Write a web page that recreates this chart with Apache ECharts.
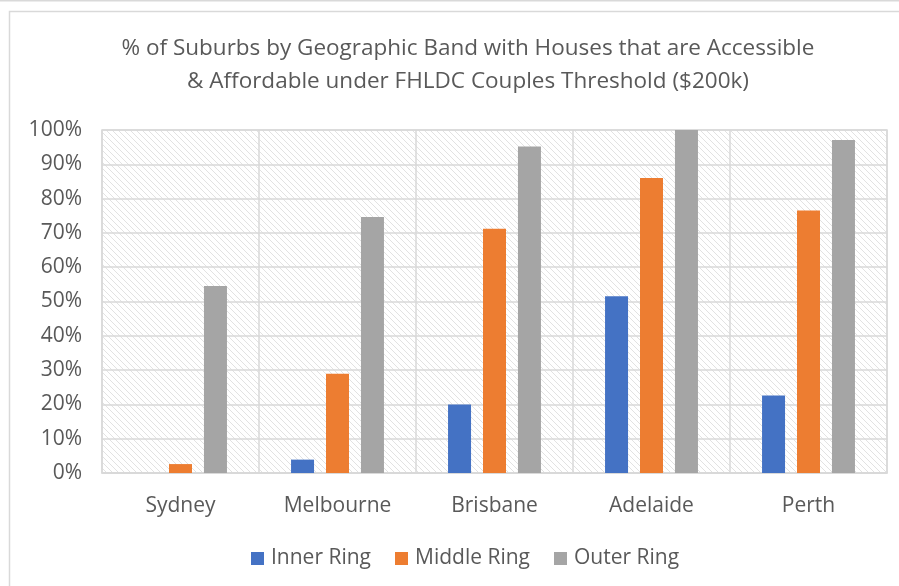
<!DOCTYPE html>
<html>
<head>
<meta charset="utf-8">
<script src="https://cdn.jsdelivr.net/npm/echarts@6/dist/echarts.min.js"></script>
<style>html,body{margin:0;padding:0;background:#fff;}#c{width:899px;height:586px;}</style>
</head>
<body>
<div id="c"></div>
<script>
const categories = ['Sydney', 'Melbourne', 'Brisbane', 'Adelaide', 'Perth'];
const innerRing = [0, 3.9, 20, 51.5, 22.6];
const middleRing = [2.6, 28.9, 71.2, 86, 76.5];
const outerRing = [54.5, 74.6, 95.2, 100, 97.1];
const seriesNames = ['Inner Ring', 'Middle Ring', 'Outer Ring'];
const yTicks = [0, 10, 20, 30, 40, 50, 60, 70, 80, 90, 100];

const FONT = 'Open Sans';
const TXT = '#595959';

const pc = document.createElement('canvas');
pc.width = 6; pc.height = 6;
const g = pc.getContext('2d');
g.fillStyle = '#ffffff'; g.fillRect(0, 0, 6, 6);
g.strokeStyle = '#e2e2e2'; g.lineWidth = 1;
g.beginPath();
g.moveTo(-1, -1); g.lineTo(7, 7);
g.moveTo(-1, 5); g.lineTo(1, 7);
g.moveTo(5, -1); g.lineTo(7, 1);
g.stroke();

const chart = echarts.init(document.getElementById('c'), null, {renderer: 'canvas'});
chart.setOption({
  animation: false,
  backgroundColor: '#fff',
  graphic: [
    {type: 'line', shape: {x1: 0, y1: 0.5, x2: 899, y2: 0.5}, style: {stroke: '#d9d9d9', lineWidth: 2}},
    {type: 'polyline', shape: {points: [[9.5, 586], [9.5, 11.5], [899, 11.5]]}, style: {stroke: '#d9d9d9', lineWidth: 1.5, fill: null}}
  ],
  title: {
    text: '% of Suburbs by Geographic Band with Houses that are Accessible\n& Affordable under FHLDC Couples Threshold ($200k)',
    left: 463, top: 27, textAlign: 'center',
    textStyle: {fontFamily: FONT, fontSize: 22.5, fontWeight: 'normal', color: TXT, lineHeight: 33}
  },
  legend: {
    data: seriesNames,
    left: 246, top: 543,
    itemWidth: 13, itemHeight: 13, itemGap: 24,
    icon: 'rect',
    textStyle: {fontFamily: FONT, fontSize: 21, color: TXT, padding: [0, 0, 0, 2]}
  },
  grid: {
    left: 102, right: 12, top: 130, bottom: 113,
    show: true,
    backgroundColor: {image: pc, repeat: 'repeat'},
    borderColor: '#d9d9d9', borderWidth: 1.5
  },
  xAxis: {
    type: 'category', data: categories,
    axisLine: {show: true, lineStyle: {color: '#d9d9d9', width: 1.5}},
    axisTick: {show: false},
    splitLine: {show: true, lineStyle: {color: '#d9d9d9', width: 1.5}},
    axisLabel: {fontFamily: FONT, fontSize: 21, color: TXT, margin: 23}
  },
  yAxis: {
    type: 'value', min: 0, max: 100, interval: 10,
    axisLine: {show: false}, axisTick: {show: false},
    splitLine: {lineStyle: {color: '#d9d9d9', width: 1.5}},
    axisLabel: {fontFamily: FONT, fontSize: 21, color: TXT, margin: 20,
      formatter: v => yTicks.includes(v) ? v + '%' : ''}
  },
  series: [
    {name: seriesNames[0], type: 'bar', data: innerRing, barWidth: 23, barGap: '52%', itemStyle: {color: '#4472C4'}},
    {name: seriesNames[1], type: 'bar', data: middleRing, barWidth: 23, barGap: '52%', itemStyle: {color: '#ED7D31'}},
    {name: seriesNames[2], type: 'bar', data: outerRing, barWidth: 23, barGap: '52%', itemStyle: {color: '#A5A5A5'}}
  ]
});
</script>
</body>
</html>
